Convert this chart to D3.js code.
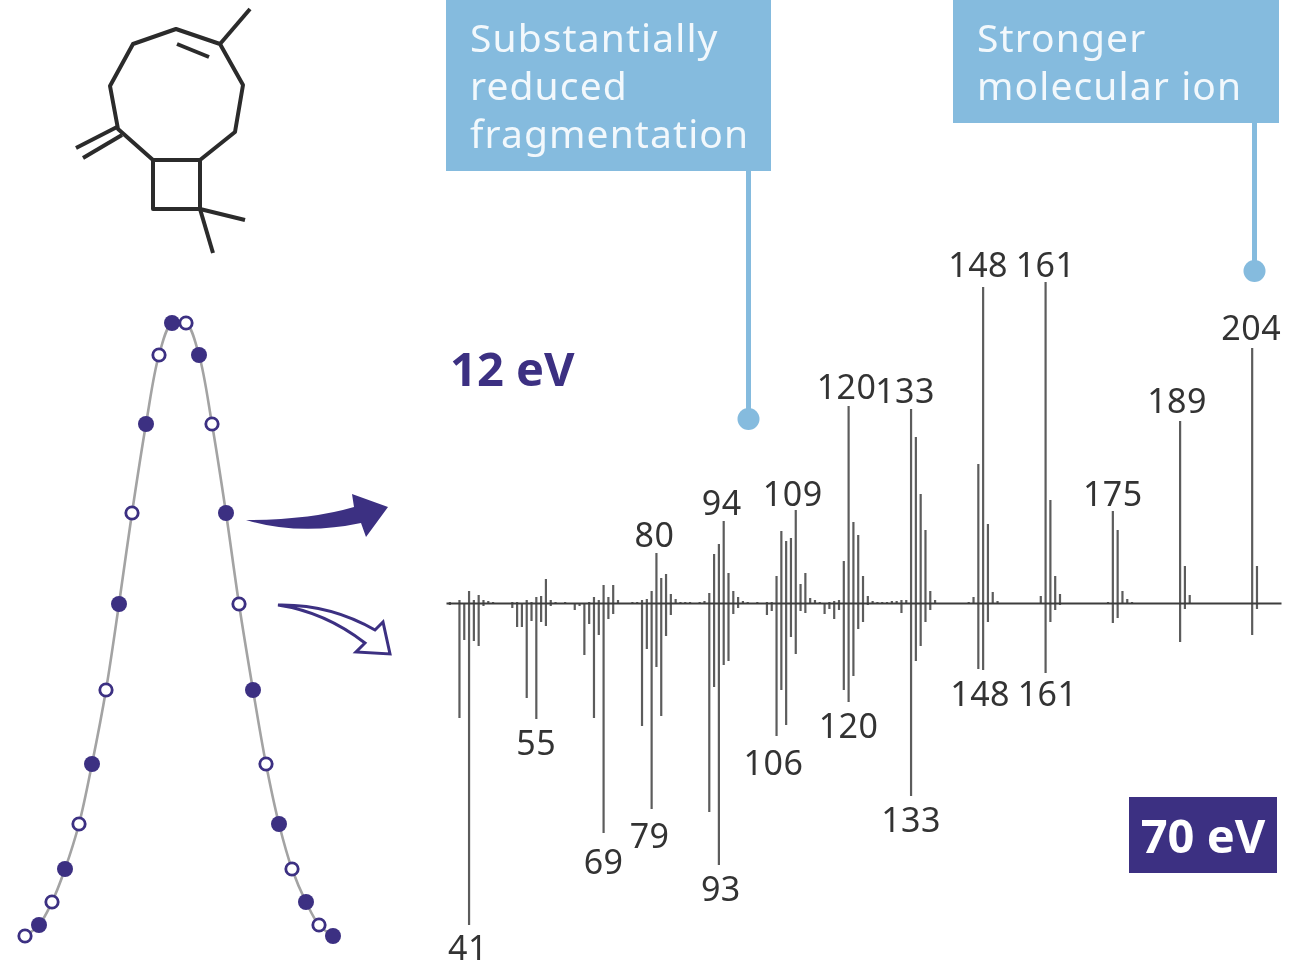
<!DOCTYPE html>
<html lang="en">
<head>
<meta charset="utf-8">
<title>Soft ionisation mass spectrum</title>
<script src="https://d3js.org/d3.v7.min.js"></script>
<style>
  body { margin: 0; background: #fff; }
  svg { display: block; filter: blur(0.5px); }
  text { font-family: "Noto Sans", "Open Sans", sans-serif; }
  .num { font-size: 34px; fill: #333; text-anchor: middle; letter-spacing: 0.5px; }
  .box-text { font-size: 39px; fill: #f2f8fc; letter-spacing: 1.1px; }
  .ev { font-size: 47px; font-weight: 700; }
</style>
</head>
<body>
<svg id="chart" width="1301" height="963"></svg>
<script>
// [m/z, height]
const peaks12 = [[37,1],[39,3],[41,12],[42,3],[43,8],[44,3],[45,2],[46,1],[50,1],[51,1],[53,3],[54,1],[55,6],[56,7],[57,24],[58,3],[59,1],[61,1],
  [66,1],[67,6],[68,3],[69,18],[70,6],[71,18],[72,3],[75,1],[76,1],[77,3],[78,4],[79,12],[80,50],[81,25],[82,29],[83,9],[84,4],[85,1],[86,1],[87,1],
  [89,1],[90,2],[91,10],[92,49],[93,59],[94,82],[95,30],[96,12],[97,6],[98,2],[99,1],[101,1],[103,1],[104,1],
  [105,27],[106,72],[107,62],[108,65],[109,93],[110,19],[111,30],[112,5],[113,3],[114,1],[116,1],[117,2],[118,3],
  [119,42],[120,197],[121,81],[122,68],[123,27],[124,7],[125,2],[126,1],[127,1],[128,1],[129,2],[130,2],[131,3],[132,3],
  [133,194],[134,166],[135,109],[136,73],[137,12],[138,3],[145,1],[146,6],[147,139],[148,316],[149,79],[150,11],[151,2],
  [160,7],[161,321],[162,103],[163,27],[164,9],[174,1],[175,92],[176,73],[177,12],[178,4],[179,1],[189,182],[190,37],[191,8],[204,255],[205,37]];

const peaks70 = [[37,2],[39,115],[40,37],[41,322],[42,38],[43,43],[44,3],[50,5],[51,24],[52,24],[53,95],[54,18],[55,116],[56,19],[57,23],[58,3],
  [63,7],[64,3],[65,52],[66,21],[67,115],[68,32],[69,230],[70,16],[71,11],[77,123],[78,46],[79,206],[80,64],[81,113],[82,33],[83,12],[87,1],
  [91,209],[92,84],[93,262],[94,62],[95,58],[96,11],[97,5],[103,12],[104,8],[105,133],[106,87],[107,122],[108,34],[109,51],[110,8],[111,10],
  [115,11],[116,6],[117,16],[118,7],[119,87],[120,99],[121,73],[122,26],[123,19],[124,2],[131,10],[133,193],[134,58],[135,43],[136,19],[137,7],
  [147,66],[148,67],[149,19],[161,70],[162,19],[163,7],[164,2],[175,20],[176,15],[189,39],[190,6],[204,32],[205,6]];

// [label, m/z of the bar it sits on]
const labels12 = [["80",80],["94",94],["109",109],["120",120],["133",133],["148",148],["161",161],["175",175],["189",189],["204",204]];
const labels70 = [["41",41],["55",55],["69",69],["79",79],["93",93],["106",105],["120",120],["133",133],["148",148],["161",161]];

// chromatographic peak: scan time and signal, two scan types taken in turn
const scansHard = [[147,613],[174,581],[121,512],[201,423],[94,332],[228,246],[67,172],[254,112],[40,67],[281,34],[14,11],[308,0]];
const scansSoft = [[161,613],[134,581],[187,512],[107,423],[214,332],[81,246],[241,172],[54,112],[267,67],[27,34],[294,11],[0,0]];

const purple = "#3c3082";
const blue = "#85bbde";

const svg = d3.select("#chart");

// --- molecule
const bonds = [
  "M176,29 L220,44 L243,85 L235,132 L200,160 L153,160 L118,129 L110,86 L133,44 Z",
  "M220,44 L250,9", "M177,44 L209,57",
  "M117,127 L76,148", "M122,135 L83,158",
  "M153,160 L200,160 L200,209 L153,209 Z",
  "M200,209 L245,220", "M200,209 L213,253"
];
svg.append("g").selectAll("path").data(bonds).join("path")
  .attr("d", d => d)
  .attr("fill", "none").attr("stroke", "#2b2b2b").attr("stroke-width", 4).attr("stroke-linejoin", "round");

// --- chromatographic peak
const t = d3.scaleLinear().domain([0, 308]).range([25, 333]);
const s = d3.scaleLinear().domain([0, 613]).range([936, 323]);
const allScans = scansHard.concat(scansSoft).sort((a, b) => a[0] - b[0]);
const peakLine = d3.line().x(d => t(d[0])).y(d => s(d[1])).curve(d3.curveCatmullRom.alpha(0.5));

svg.append("path").datum(allScans).attr("d", peakLine)
  .attr("fill", "none").attr("stroke", "#a3a3a3").attr("stroke-width", 2.6);
svg.append("g").selectAll("circle").data(scansHard).join("circle")
  .attr("cx", d => t(d[0])).attr("cy", d => s(d[1])).attr("r", 8).attr("fill", purple);
svg.append("g").selectAll("circle").data(scansSoft).join("circle")
  .attr("cx", d => t(d[0])).attr("cy", d => s(d[1])).attr("r", 6.2)
  .attr("fill", "#fff").attr("stroke", purple).attr("stroke-width", 2.8);

// --- arrows
svg.append("path").attr("fill", purple)
  .attr("d", "M246,520 Q310,520 354,507 L352,494 L388,507 L366,537 L361,523 Q300,536 246,520 Z");
svg.append("path").attr("fill", "#fff").attr("stroke", purple).attr("stroke-width", 3).attr("stroke-linejoin", "miter")
  .attr("d", "M278,605 Q330,604 375,630 L383,622 L390,654 L356,652 L365,643 Q325,612 278,605 Z");

// --- spectrum
const x = d3.scaleLinear().domain([36.2, 210]).range([446, 1281]);
const up = d3.scaleLinear().domain([0, 330]).range([603, 273]);
const down = d3.scaleLinear().domain([0, 330]).range([603, 933]);

svg.append("g").selectAll("line").data(peaks12).join("line")
  .attr("x1", d => x(d[0])).attr("x2", d => x(d[0]))
  .attr("y1", up(0)).attr("y2", d => up(d[1]))
  .attr("stroke", "#5c5c5c").attr("stroke-width", 2.2);
svg.append("g").selectAll("line").data(peaks70).join("line")
  .attr("x1", d => x(d[0])).attr("x2", d => x(d[0]))
  .attr("y1", down(0)).attr("y2", d => down(d[1]))
  .attr("stroke", "#5c5c5c").attr("stroke-width", 2.2);

const axis = svg.append("g").attr("transform", "translate(0," + up(0) + ")")
  .call(d3.axisBottom(x).tickValues([]).tickSizeOuter(0));
axis.select(".domain").attr("stroke", "#3d3d3d").attr("stroke-width", 2);

// labels are hand placed in the original, so they get small nudges
const nudge12 = { "80": [-2, 2], "94": [-2, 2], "109": [-3, 4], "120": [-2, 1], "133": [-6, 2], "148": [-5, -2], "161": [0, 3], "175": [0, 3], "189": [-3, 0], "204": [-1, 0] };
const nudge70 = { "41": [-1, -1], "69": [0, 5], "79": [-2, 3], "93": [2, 0], "106": [-3, 3], "120": [0, 0], "133": [0, 0], "148": [-3, 0], "161": [2, -3] };
const heightOf = (list, m) => list.find(d => d[0] === m)[1];

svg.append("g").selectAll("text").data(labels12).join("text")
  .attr("class", "num")
  .attr("x", d => x(d[1]) + nudge12[d[0]][0])
  .attr("y", d => up(heightOf(peaks12, d[1])) - 8 + nudge12[d[0]][1])
  .text(d => d[0]);
svg.append("g").selectAll("text").data(labels70).join("text")
  .attr("class", "num")
  .attr("x", d => x(d[1]) + (nudge70[d[0]] || [0, 0])[0])
  .attr("y", d => down(heightOf(peaks70, d[1])) + 36 + (nudge70[d[0]] || [0, 0])[1])
  .text(d => d[0]);

// --- callouts
function callout(bx, bw, bh, lines, lx, dotY) {
  svg.append("line").attr("x1", lx).attr("x2", lx).attr("y1", bh).attr("y2", dotY)
    .attr("stroke", blue).attr("stroke-width", 5);
  svg.append("circle").attr("cx", lx).attr("cy", dotY).attr("r", 11).attr("fill", blue);
  svg.append("rect").attr("x", bx).attr("y", 0).attr("width", bw).attr("height", bh).attr("fill", blue);
  svg.selectAll(null).data(lines).join("text")
    .attr("class", "box-text")
    .attr("x", bx + 24)
    .attr("y", (d, i) => 52 + i * 48)
    .text(d => d);
}
callout(446, 325, 171, ["Substantially", "reduced", "fragmentation"], 748.5, 419);
callout(953, 326, 123, ["Stronger", "molecular ion"], 1254.5, 271);

// --- energy tags
svg.append("text").attr("class", "ev").attr("x", 450).attr("y", 386).attr("fill", purple).text("12 eV");
svg.append("rect").attr("x", 1129).attr("y", 797).attr("width", 148).attr("height", 76).attr("fill", purple);
svg.append("text").attr("class", "ev").attr("x", 1203).attr("y", 853).attr("fill", "#fff").attr("text-anchor", "middle").text("70 eV");
</script>
</body>
</html>
